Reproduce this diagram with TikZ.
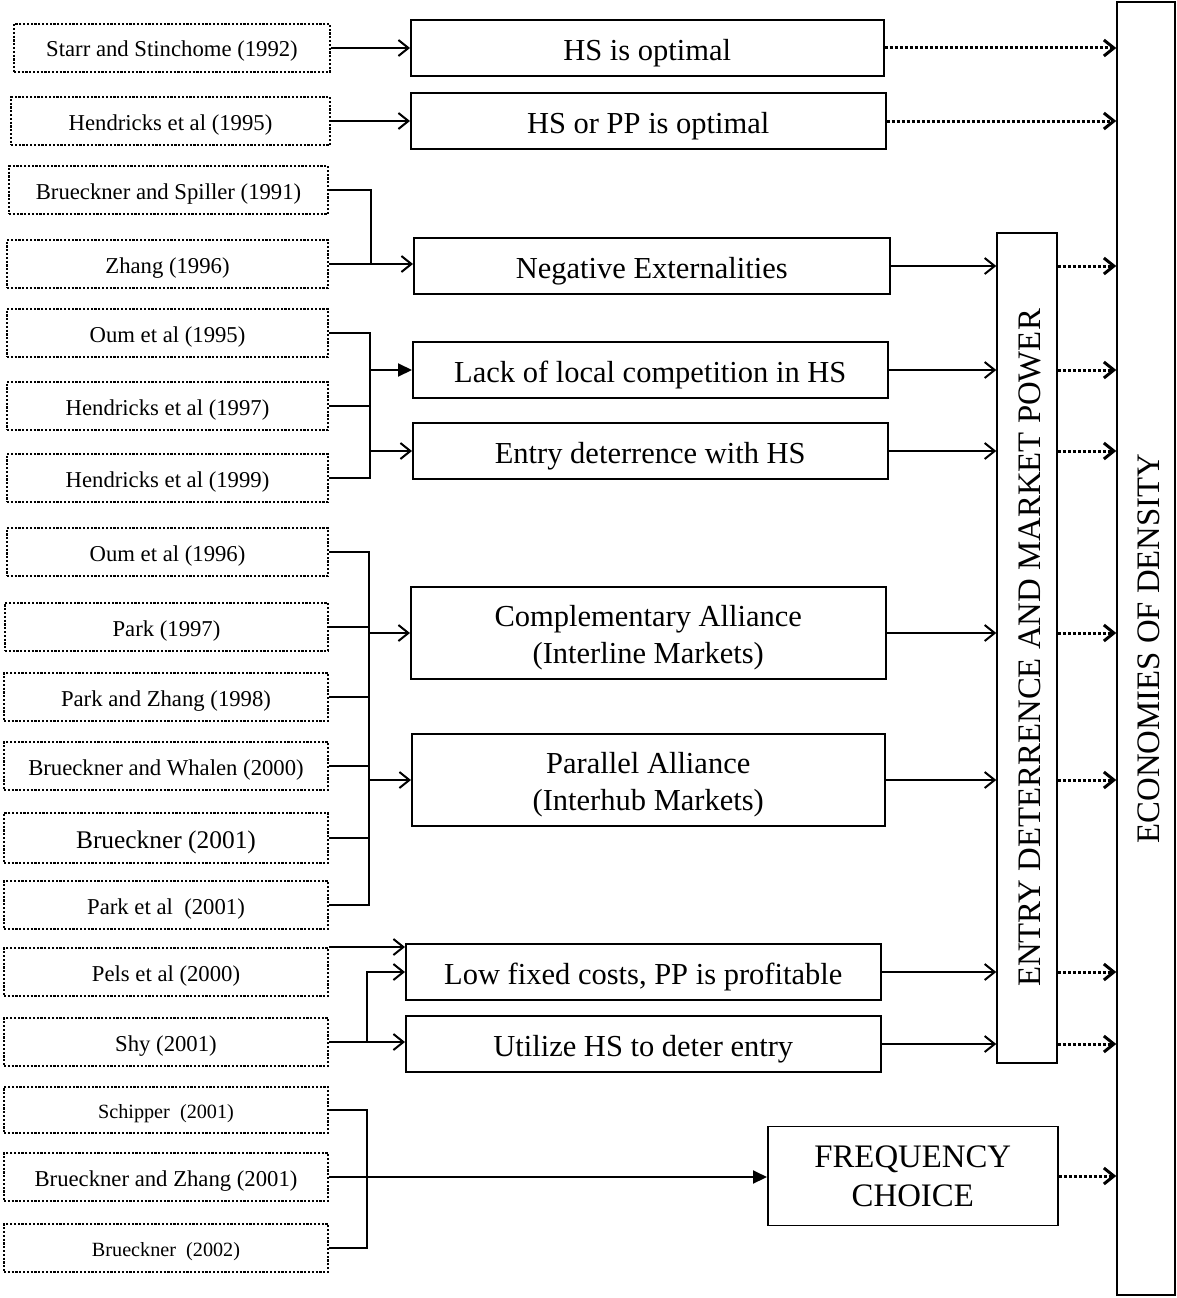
\documentclass[tikz,border=0pt]{standalone}
\usepackage{fontspec}
\setmainfont{Liberation Serif}
\usetikzlibrary{arrows.meta}

\begin{document}
\begin{tikzpicture}[x=1pt, y=-1pt,
    oneline/.style={text height=#1, text depth=0pt},
    paper/.style={draw, line width=2pt, dash pattern=on 2.2pt off 1.6pt, anchor=east,
      minimum height=48pt, inner sep=0pt, oneline=18pt, font=\fontsize{22.7}{27}\selectfont},
    effect/.style={draw, line width=1.5pt, anchor=west, minimum width=475pt,
      minimum height=56pt, inner sep=0pt, align=center, font=\fontsize{30.5}{37}\selectfont},
    tall/.style={draw, line width=1.5pt, rotate=90, inner sep=0pt, oneline=26pt,
      font=\fontsize{32.8}{38}\selectfont},
    link/.style={line width=2pt},
    opento/.style={link, -{Straight Barb[length=10pt,width=16pt]}},
    fillto/.style={link, -{Triangle[length=14pt,width=13pt]}},
    dotto/.style={line width=3pt, dash pattern=on 3pt off 2pt,
      -{Straight Barb[length=10pt,width=16pt]}}]
  \useasboundingbox (0,0) rectangle (1177,1298);

  % references
  \node[paper, minimum width=316] (starr) at (331,48) {Starr and Stinchome (1992)};
  \node[paper, minimum width=319] (hend95) at (331,121) {Hendricks et al (1995)};
  \node[paper, minimum width=319] (spiller) at (329,190) {Brueckner and Spiller (1991)};
  \node[paper, minimum width=321] (zhang) at (329,264) {Zhang (1996)};
  \node[paper, minimum width=321] (oum95) at (329,333) {Oum et al (1995)};
  \node[paper, minimum width=321] (hend97) at (329,406) {Hendricks et al (1997)};
  \node[paper, minimum width=321] (hend99) at (329,478) {Hendricks et al (1999)};
  \node[paper, minimum width=321] (oum96) at (329,552) {Oum et al (1996)};
  \node[paper, minimum width=323] (park97) at (329,627) {Park (1997)};
  \node[paper, minimum width=324] (parkzh) at (329,697) {Park and Zhang (1998)};
  \node[paper, minimum width=324] (whalen) at (329,766) {Brueckner and Whalen (2000)};
  \node[paper, minimum width=324, minimum height=50, oneline=20pt, font=\fontsize{25.4}{30}\selectfont]
    (bru01) at (329,838) {Brueckner (2001)};
  \node[paper, minimum width=324] (park01) at (329,905) {Park et al\ \ (2001)};
  \node[paper, minimum width=324] (pels) at (329,972) {Pels et al (2000)};
  \node[paper, minimum width=324] (shy) at (329,1042) {Shy (2001)};
  \node[paper, minimum width=324, minimum height=46, oneline=16pt, font=\fontsize{20.2}{24}\selectfont]
    (schip) at (329,1110) {Schipper\ \ (2001)};
  \node[paper, minimum width=324] (bzhang) at (329,1177) {Brueckner and Zhang (2001)};
  \node[paper, minimum width=324, oneline=16pt, font=\fontsize{20.2}{24}\selectfont]
    (bru02) at (329,1248) {Brueckner\ \ (2002)};

  % effects
  \node[effect, oneline=24.4pt, minimum width=473] (hsopt) at (410,48) {HS is optimal};
  \node[effect, oneline=24.4pt] (hspp) at (410,121) {HS or PP is optimal};
  \node[effect, oneline=24.4pt, minimum width=476] (negext) at (413,266) {Negative Externalities};
  \node[effect, oneline=24.4pt] (lack) at (412,370) {Lack of local competition in HS};
  \node[effect, oneline=24.4pt] (deter) at (412,451) {Entry deterrence with HS};
  \node[effect, minimum height=92, oneline=60pt] (compl) at (410,633) {Complementary Alliance\\(Interline Markets)};
  \node[effect, minimum width=473, minimum height=92, oneline=60pt] (paral) at (411,780) {Parallel Alliance\\(Interhub Markets)};
  \node[effect, oneline=24.4pt] (lowfix) at (405,972) {Low fixed costs, PP is profitable};
  \node[effect, oneline=24.4pt] (utilize) at (405,1044) {Utilize HS to deter entry};
  \node[effect, minimum width=290, minimum height=99, font=\fontsize{32.8}{39}\selectfont]
    (freq) at (767,1176) {FREQUENCY\\CHOICE};

  \node[tall, minimum width=830, minimum height=60] (power) at (1027,648) {ENTRY DETERRENCE AND MARKET POWER};
  \node[tall, minimum width=1293, minimum height=58] (density) at (1146,648.5) {ECONOMIES OF DENSITY};

  \coordinate (bus2) at (370,0);
  \coordinate (bus3) at (369,0);

  % references to effects
  \draw[opento] (starr.east) -- (starr.east -| hsopt.west);
  \draw[opento] (hend95.east) -- (hend95.east -| hspp.west);
  \draw[link] (spiller.east) -- ++(42,0) |- (zhang.east);
  \draw[opento] (zhang.east) -- (zhang.east -| negext.west);
  \draw[link] (oum95.east) -- ++(41,0) |- (hend99.east);
  \draw[link] (hend97.east) -- ++(41,0);
  \draw[fillto] (bus2 |- lack.west) -- (lack.west);
  \draw[opento] (bus2 |- deter.west) -- (deter.west);
  \draw[link] (oum96.east) -- ++(40,0) |- (park01.east);
  \draw[link] (park97.east) -- ++(40,0)
              (parkzh.east) -- ++(40,0)
              (whalen.east) -- ++(40,0)
              (bru01.east) -- ++(40,0);
  \draw[opento] (bus3 |- compl.west) -- (compl.west);
  \draw[opento] (bus3 |- paral.west) -- (paral.west);
  \draw[opento] (pels.north east) -- (pels.north east -| lowfix.west);
  \draw[opento] (shy.east) -- ++(38,0) |- (lowfix.west);
  \draw[opento] (shy.east) -- (shy.east -| utilize.west);
  \draw[link] (schip.east) -- ++(38,0) |- (bru02.east);
  \draw[fillto] (bzhang.east) -- (bzhang.east -| freq.west);

  % effects to market power
  \foreach \eff in {negext, lack, deter, compl, paral, lowfix, utilize} {
    \draw[opento] (\eff.east) -- (\eff.east -| power.north);
    \draw[dotto] (\eff.east -| power.south) -- (\eff.east -| density.north);
  }
  \draw[dotto] (hsopt.east) -- (hsopt.east -| density.north);
  \draw[dotto] (hspp.east) -- (hspp.east -| density.north);
  \draw[dotto] (freq.east) -- (freq.east -| density.north);
\end{tikzpicture}
\end{document}
